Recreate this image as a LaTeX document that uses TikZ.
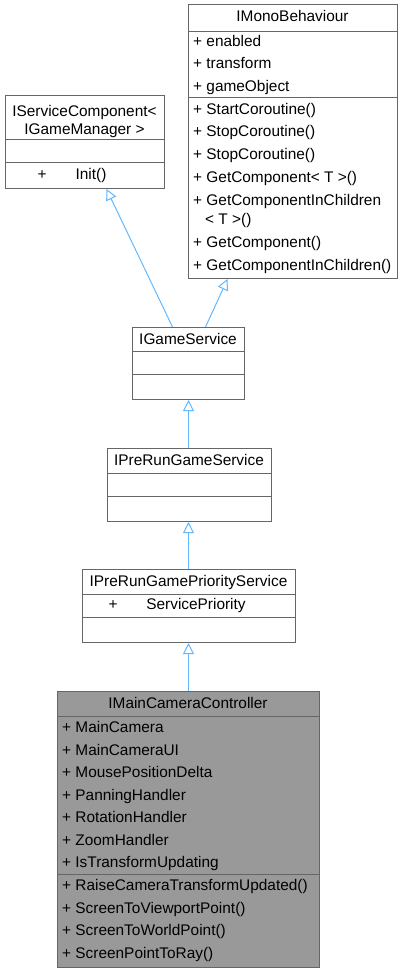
\documentclass[tikz,border=0pt]{standalone}
\usepackage{fontspec}
\setmainfont{Liberation Sans}
\usetikzlibrary{arrows.meta}
\definecolor{edgeblue}{HTML}{63B8FF}
\definecolor{bordergray}{HTML}{666666}
\definecolor{mainfill}{HTML}{999999}
\tikzset{
  classbox/.style={draw=bordergray, line width=1pt, inner sep=0pt, anchor=north west, fill=white},
  mainbox/.style={classbox, fill=mainfill},
  sep/.style={draw=bordergray, line width=1pt},
  txt/.style={inner sep=0pt, text height=11pt, text depth=3pt, font=\fontsize{15.4}{18}\selectfont},
  lt/.style={txt, anchor=west},
  ct/.style={txt, anchor=center},
  inherit/.style={draw=edgeblue, line width=1pt, -{Triangle[open, length=11pt, width=11pt, fill=white]}},
}
\begin{document}
\begin{tikzpicture}[x=1pt,y=-1pt]
\useasboundingbox (0,0) rectangle (402,973);
% IServiceComponent
\node[classbox, minimum width=159pt, minimum height=93pt] (sc) at (5,95) {};
\draw[sep] (5,140) -- (164,140);
\draw[sep] (5,163) -- (164,163);
\node[ct] (sct1) at (84.5,113) {IServiceComponent<};
\node[ct] (sct2) at (84.5,131) {IGameManager >};
\node[ct] (scp) at (42,176) {+};
\node[ct] (scm) at (91,176) {Init()};
% IMonoBehaviour
\node[classbox, minimum width=209pt, minimum height=274pt] (mb) at (188,4) {};
\draw[sep] (188,32) -- (397,32);
\draw[sep] (188,98) -- (397,98);
\node[ct] (mbt) at (292.5,18) {IMonoBehaviour};
\node[lt] (mb1) at (193,43) {+ enabled};
\node[lt] (mb2) at (193,65) {+ transform};
\node[lt] (mb3) at (193,88) {+ gameObject};
\node[lt] (mb4) at (193,111) {+ StartCoroutine()};
\node[lt] (mb5) at (193,133) {+ StopCoroutine()};
\node[lt] (mb6) at (193,156) {+ StopCoroutine()};
\node[lt] (mb7) at (193,179) {+ GetComponent< T >()};
\node[lt] (mb8) at (193,202) {+ GetComponentInChildren};
\node[lt] (mb9) at (205,221) {< T >()};
\node[lt] (mb10) at (193,244) {+ GetComponent()};
\node[lt] (mb11) at (193,267) {+ GetComponentInChildren()};
% IGameService
\node[classbox, minimum width=112pt, minimum height=72pt] (gs) at (132,327) {};
\draw[sep] (132,351) -- (244,351);
\draw[sep] (132,374) -- (244,374);
\node[ct] (gst) at (188,340) {IGameService};
% IPreRunGameService
\node[classbox, minimum width=164pt, minimum height=73pt] (pr) at (107,448) {};
\draw[sep] (107,473) -- (271,473);
\draw[sep] (107,496) -- (271,496);
\node[ct] (prt) at (189,461) {IPreRunGameService};
% IPreRunGamePriorityService
\node[classbox, minimum width=213pt, minimum height=73pt] (pp) at (82,569) {};
\draw[sep] (82,594) -- (295,594);
\draw[sep] (82,617) -- (295,617);
\node[ct] (ppt) at (188.5,582) {IPreRunGamePriorityService};
\node[ct] (ppp) at (113,605) {+};
\node[ct] (ppa) at (196,605) {ServicePriority};
% IMainCameraController
\node[mainbox, minimum width=262pt, minimum height=276pt] (mc) at (57,691) {};
\draw[sep] (57,716) -- (319,716);
\draw[sep] (57,874) -- (319,874);
\node[ct] (mct) at (188,704) {IMainCameraController};
\node[lt] (mc1) at (62,728) {+ MainCamera};
\node[lt] (mc2) at (62,751) {+ MainCameraUI};
\node[lt] (mc3) at (62,773) {+ MousePositionDelta};
\node[lt] (mc4) at (62,796) {+ PanningHandler};
\node[lt] (mc5) at (62,818) {+ RotationHandler};
\node[lt] (mc6) at (62,841) {+ ZoomHandler};
\node[lt] (mc7) at (62,863) {+ IsTransformUpdating};
\node[lt] (mc8) at (62,886) {+ RaiseCameraTransformUpdated()};
\node[lt] (mc9) at (62,909) {+ ScreenToViewportPoint()};
\node[lt] (mc10) at (62,931) {+ ScreenToWorldPoint()};
\node[lt] (mc11) at (62,954) {+ ScreenPointToRay()};
% edges
\draw[inherit] ([xshift=-16pt]gs.north) -- ([xshift=21.5pt]sc.south);
\draw[inherit] ([xshift=17pt]gs.north) -- ([xshift=-65.5pt]mb.south);
\draw[inherit] (pr.north -| gs.south) -- (gs.south);
\draw[inherit] (pp.north -| gs.south) -- (pr.south -| gs.south);
\draw[inherit] (mc.north -| gs.south) -- (pp.south -| gs.south);
\end{tikzpicture}
\end{document}
